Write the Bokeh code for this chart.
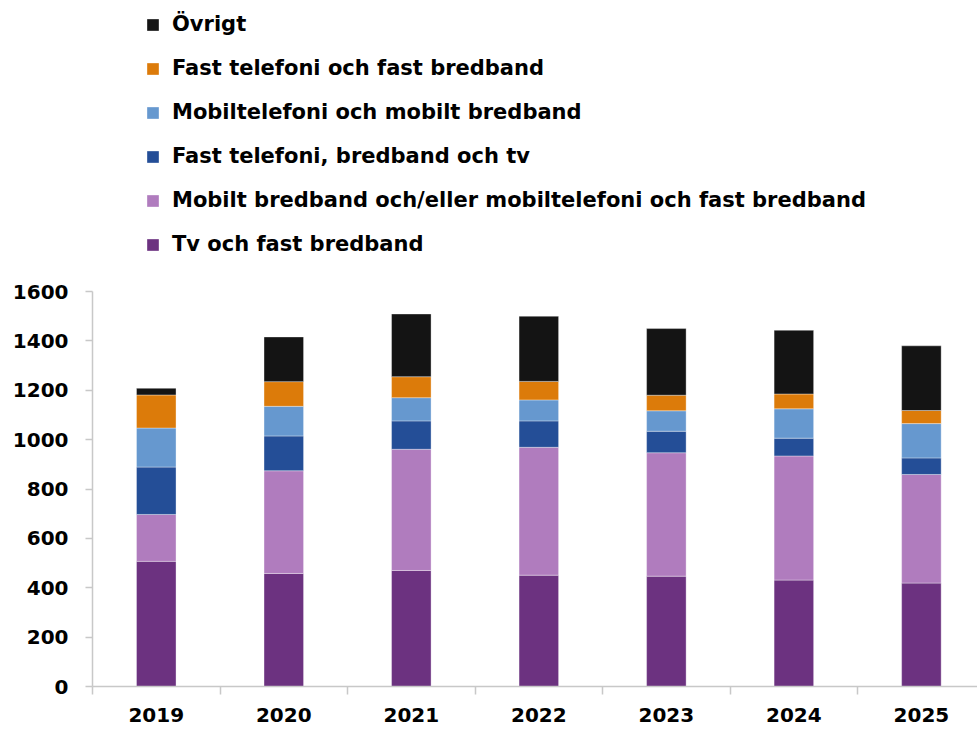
from bokeh.plotting import figure
from bokeh.models import (Range1d, FixedTicker, Legend, LegendItem, ColumnDataSource,
                          LinearAxis)
from bokeh.embed import file_html
from bokeh.resources import INLINE

years = ["2019", "2020", "2021", "2022", "2023", "2024", "2025"]
tv_fast_bredband = [507, 458, 470, 451, 447, 431, 419]
mobilt_mobiltel_fast = [190, 416, 491, 518, 500, 503, 440]
fast_tel_bredband_tv = [192, 141, 115, 107, 87, 72, 67]
mobiltel_mobilt_bredband = [158, 120, 94, 85, 83, 119, 139]
fast_tel_fast_bredband = [134, 100, 85, 75, 63, 60, 53]
ovrigt = [27, 181, 254, 264, 270, 258, 262]

series_names = ["Tv och fast bredband",
                "Mobilt bredband och/eller mobiltelefoni och fast bredband",
                "Fast telefoni, bredband och tv",
                "Mobiltelefoni och mobilt bredband",
                "Fast telefoni och fast bredband",
                "Övrigt"]
colors = ["#6c3280", "#b07cbe", "#244e97", "#6698cf", "#dc7b0a", "#141414"]
y_ticks = [0, 200, 400, 600, 800, 1000, 1200, 1400, 1600]

FONT = "DejaVu Sans"
keys = ["s0", "s1", "s2", "s3", "s4", "s5"]
x = list(range(len(years)))
data = dict(x=x)
for k, vals in zip(keys, [tv_fast_bredband, mobilt_mobiltel_fast, fast_tel_bredband_tv,
                          mobiltel_mobilt_bredband, fast_tel_fast_bredband, ovrigt]):
    data[k] = vals
src = ColumnDataSource(data)

p = figure(width=977, height=729, output_backend="svg", toolbar_location=None,
           x_range=Range1d(-0.5, 6.44), y_range=Range1d(0, 2779),
           min_border_left=92, min_border_right=0, min_border_top=0,
           min_border_bottom=43, x_axis_type=None, y_axis_type=None)
p.outline_line_color = None
p.xgrid.visible = False
p.ygrid.visible = False

renderers = p.vbar_stack(keys, x="x", width=0.31, source=src, color=colors,
                         line_color="white", line_alpha=0.35, line_width=1)

# y axis
yax = LinearAxis(ticker=FixedTicker(ticks=y_ticks), bounds=(0, 1600))
yax.axis_line_color = "#c8c8c8"
yax.axis_line_width = 1.5
yax.major_tick_line_color = "#c8c8c8"
yax.major_tick_line_width = 1.5
yax.major_tick_out = 7
yax.major_tick_in = 0
yax.minor_tick_line_color = None
yax.major_label_standoff = 17
yax.major_label_text_font = FONT
yax.major_label_text_font_style = "bold"
yax.major_label_text_font_size = "20px"
yax.major_label_text_color = "black"
p.add_layout(yax, "left")

# x axis: labels at centers, ticks between categories
xax = LinearAxis(ticker=FixedTicker(ticks=x, minor_ticks=[i - 0.5 for i in range(len(years) + 1)]))
xax.major_label_overrides = {i: y for i, y in enumerate(years)}
xax.axis_line_color = "#c8c8c8"
xax.axis_line_width = 1.5
xax.major_tick_line_color = None
xax.major_tick_out = 0
xax.major_tick_in = 0
xax.minor_tick_line_color = "#c8c8c8"
xax.minor_tick_line_width = 1.5
xax.minor_tick_out = 8
xax.minor_tick_in = 0
xax.major_label_standoff = 13
xax.major_label_text_font = FONT
xax.major_label_text_font_style = "bold"
xax.major_label_text_font_size = "20px"
xax.major_label_text_color = "black"
p.add_layout(xax, "below")

items = [LegendItem(label=series_names[i], renderers=[renderers[i]]) for i in range(5, -1, -1)]
legend = Legend(items=items, location=(53, 430), orientation="vertical")
legend.padding = 0
legend.margin = 0
legend.spacing = 20
legend.glyph_width = 15
legend.glyph_height = 15
legend.label_height = 24
legend.label_standoff = 12
legend.label_text_font = FONT
legend.label_text_font_style = "bold"
legend.label_text_font_size = "21px"
legend.label_text_color = "black"
legend.border_line_color = None
legend.background_fill_alpha = 0
p.add_layout(legend, "center")

open("out.html", "w").write(file_html(p, INLINE))
